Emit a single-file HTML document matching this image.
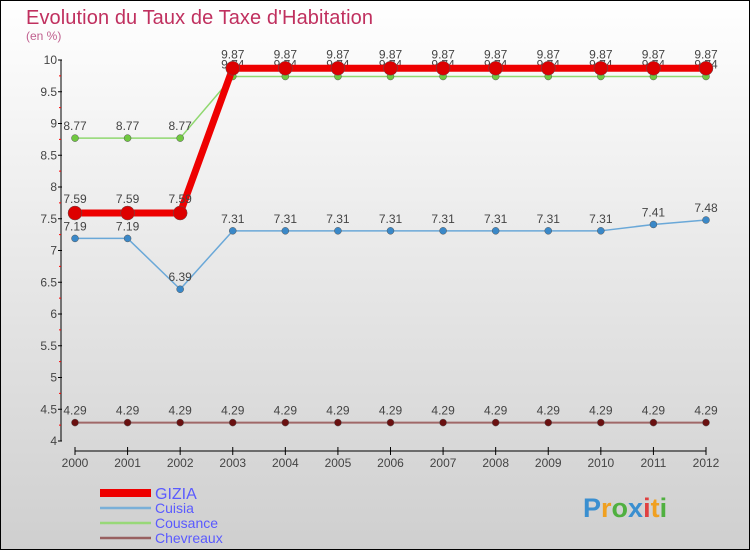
<!DOCTYPE html>
<html><head><meta charset="utf-8">
<style>
html,body{margin:0;padding:0;}
body{width:750px;height:550px;overflow:hidden;font-family:"Liberation Sans","DejaVu Sans",sans-serif;}
svg text{font-family:"Liberation Sans","DejaVu Sans",sans-serif;}
</style></head>
<body>
<svg id="chart" width="750" height="550" xmlns="http://www.w3.org/2000/svg">
<defs>
<linearGradient id="bg" x1="0" y1="0" x2="0" y2="1">
<stop offset="0" stop-color="#ffffff"/><stop offset="1" stop-color="#cfcfcf"/>
</linearGradient>
</defs>
<rect x="0.5" y="0.5" width="749" height="549" fill="url(#bg)" stroke="#000"/>
<text x="26" y="24" font-size="20" fill="#c0305f" textLength="347">Evolution du Taux de Taxe d'Habitation</text>
<text x="26" y="40" font-size="12" fill="#c0608f">(en %)</text>
<g id="axes"></g>
<g id="series"></g>
<g id="legend"></g>
<text x="583" y="517" font-size="27" font-weight="bold"><tspan fill="#3a8fd0">P</tspan><tspan fill="#f0a020">r</tspan><tspan fill="#50b040">o</tspan><tspan fill="#3a8fd0">x</tspan><tspan fill="#e04040">i</tspan><tspan fill="#f0a020">t</tspan><tspan fill="#50b040">i</tspan></text>
</svg>
<script>
const years = [2000,2001,2002,2003,2004,2005,2006,2007,2008,2009,2010,2011,2012];
const yTicks = [4,4.5,5,5.5,6,6.5,7,7.5,8,8.5,9,9.5,10];
const seriesNames = ["GIZIA","Cuisia","Cousance","Chevreaux"];
const gizia = [7.59,7.59,7.59,9.87,9.87,9.87,9.87,9.87,9.87,9.87,9.87,9.87,9.87];
const cuisia = [7.19,7.19,6.39,7.31,7.31,7.31,7.31,7.31,7.31,7.31,7.31,7.41,7.48];
const cousance = [8.77,8.77,8.77,9.74,9.74,9.74,9.74,9.74,9.74,9.74,9.74,9.74,9.74];
const chevreaux = [4.29,4.29,4.29,4.29,4.29,4.29,4.29,4.29,4.29,4.29,4.29,4.29,4.29];

const NS="http://www.w3.org/2000/svg";
function xs(i){return 75+i*(706-75)/(years.length-1);}
function ys(v){return 441-(v-4)*(441-60)/6;}
function mk(tag,attrs,parent){const e=document.createElementNS(NS,tag);for(const k in attrs)e.setAttribute(k,attrs[k]);parent.appendChild(e);return e;}
function fmt(v){return String(v);}

const axes=document.getElementById('axes');
let yl=mk('line',{x1:61,y1:60,x2:61,y2:441,stroke:'#000','stroke-width':1},axes);


yTicks.forEach((t,i)=>{
  const y=ys(t);
  let tk=mk('line',{x1:58,y1:y,x2:62,y2:y,stroke:'#000'},axes);
  
  
  let lb=mk('text',{x:57,y:y+4,'font-size':12,fill:'#444','text-anchor':'end'},axes);
  lb.textContent=fmt(t);
  
  
  if(i<yTicks.length-1){
    const ym=ys(t+0.25);
    let mt=mk('line',{x1:59,y1:ym,x2:61,y2:ym,stroke:'#f00'},axes);
    
    
  }
});
let xl=mk('line',{x1:75,y1:451,x2:706,y2:451,stroke:'#000'},axes);


years.forEach((yr,i)=>{
  const x=xs(i);
  let tk=mk('line',{x1:x,y1:447,x2:x,y2:455,stroke:'#000'},axes);
  
  
  let lb=mk('text',{x:x,y:467,'font-size':12,fill:'#444','text-anchor':'middle'},axes);
  lb.textContent=yr;
  
  
});

const sg=document.getElementById('series');
function drawSeries(vals,name,color,width,r,dot,lblDy){
  const g=mk('g',{},sg);
  
  
  const pts=vals.map((v,i)=>xs(i)+','+ys(v)).join(' ');
  let pl=mk('polyline',{points:pts,fill:'none',stroke:color,'stroke-width':width,'stroke-linejoin':'round'},g);
  
  
  vals.forEach((v,i)=>{
    let c=mk('circle',{cx:xs(i),cy:ys(v),r:r,fill:dot,stroke:'#555','stroke-width':0.5},g);
    
    
    let t=mk('text',{x:xs(i),y:ys(v)+lblDy,'font-size':12,fill:'#444','text-anchor':'middle'},g);
    t.textContent=fmt(v);
    
    
  });
}
drawSeries(chevreaux,'Chevreaux','#a06868',2,3.5,'#6a1010',-8);
drawSeries(cuisia,'Cuisia','#6aa8d8',1.5,3.5,'#3a88c8',-8);
drawSeries(cousance,'Cousance','#90d870',1.5,3.5,'#70c840',-8);
drawSeries(gizia,'GIZIA','#ee0000',7,7,'#dd0000',-10);

const lg=document.getElementById('legend');
const legendColors=['#ee0000','#7ab0d8','#98d878','#986060'];
const legendWidths=[8,2.5,2.5,2.5];
seriesNames.forEach((n,i)=>{
  const y=493+i*15;
  const g=mk('g',{},lg);
  
  
  mk('line',{x1:100,y1:y,x2:151,y2:y,stroke:legendColors[i],'stroke-width':legendWidths[i]},g);
  let t=mk('text',{x:155,y:y+(i===0?6:5),'font-size':i===0?16:14,fill:'#5a5aff'},g);
  t.textContent=n;
});
</script>
</body></html>
